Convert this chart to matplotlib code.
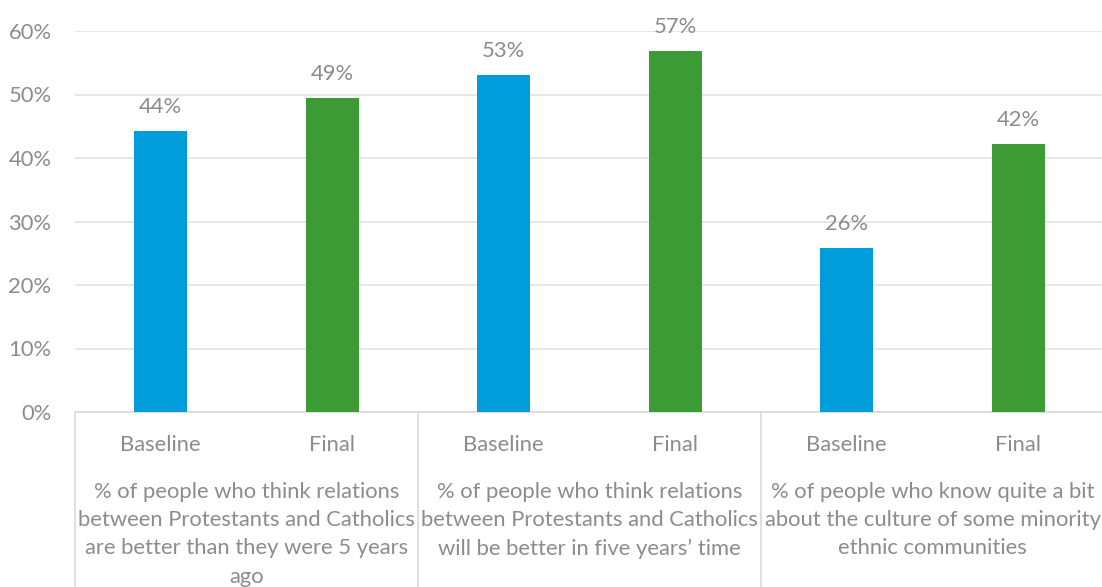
import matplotlib
matplotlib.use("Agg")
import matplotlib.pyplot as plt
from matplotlib.ticker import PercentFormatter

plt.rcParams['font.family'] = ['Lato', 'DejaVu Sans']

groups = [
    "% of people who think relations\nbetween Protestants and Catholics\nare better than they were 5 years\nago",
    "% of people who think relations\nbetween Protestants and Catholics\nwill be better in five years\u2019 time",
    "% of people who know quite a bit\nabout the culture of some minority\nethnic communities",
]
series = ["Baseline", "Final"]
values = [0.442, 0.494, 0.531, 0.568, 0.258, 0.422]
labels = ["44%", "49%", "53%", "57%", "26%", "42%"]
yticks = [0, 0.1, 0.2, 0.3, 0.4, 0.5, 0.6]

BLUE = "#009DDC"
GREEN = "#3D9B35"
TXT = "#8C8C8C"
GRID = "#E3E3E3"
FS = 15.8

W, H = 1102, 587
fig = plt.figure(figsize=(W / 100, H / 100), dpi=100)
ax = fig.add_axes([75 / W, 1 - 412 / H, 1029 / W, (412 - 31) / H])

x = list(range(len(values)))
colors = [BLUE if i % 2 == 0 else GREEN for i in x]
bars = ax.bar(x, values, width=0.31, color=colors, zorder=3)
for b, lab in zip(bars, labels):
    ax.annotate(lab, (b.get_x() + b.get_width() / 2, b.get_height()),
                xytext=(0, 10), textcoords="offset points", ha="center", va="bottom",
                fontsize=FS, color=TXT)

ax.set_xlim(-0.5, len(values) - 0.5)
ax.set_ylim(0, 0.6)
ax.set_yticks(yticks)
ax.yaxis.set_major_formatter(PercentFormatter(1.0, decimals=0))
ax.grid(axis="y", color=GRID, linewidth=1.2, zorder=0)
for s in ["top", "right", "left"]:
    ax.spines[s].set_visible(False)
ax.spines["bottom"].set_color("#D9D9D9")
ax.spines["bottom"].set_linewidth(1.2)
ax.tick_params(axis="y", length=0, labelsize=FS, labelcolor=TXT, pad=17)
ax.tick_params(axis="x", length=0, labelsize=FS, labelcolor=TXT, pad=16.5)
ax.set_xticks(x)
ax.set_xticklabels([series[i % 2] for i in x])

trans = ax.get_xaxis_transform()
for g, text in enumerate(groups):
    ax.text(2 * g + 0.5, -0.183, text, transform=trans, ha="center", va="top",
            fontsize=FS, color=TXT, linespacing=1.52)
for d in [-0.5, 1.5, 3.5, 5.5]:
    ax.plot([d, d], [0, -0.5], transform=trans, color="#D9D9D9", lw=1.2, clip_on=False)

fig.savefig("out.png", dpi=100)
